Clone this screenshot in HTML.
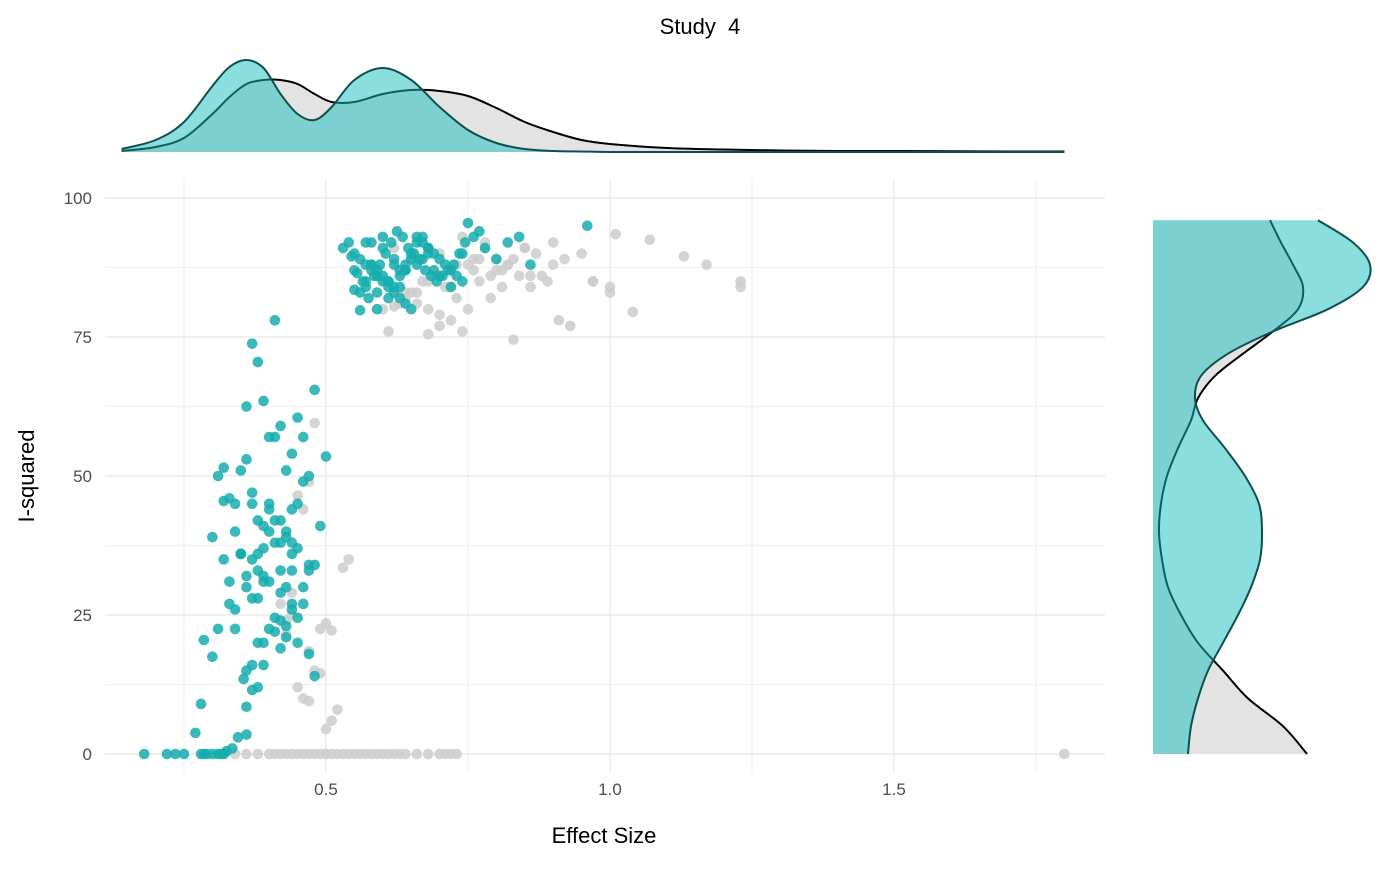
<!DOCTYPE html>
<html><head><meta charset="utf-8"><style>
html,body{margin:0;padding:0;background:#fff;}
svg text{font-family:"Liberation Sans",Arial,sans-serif;}
</style></head><body>
<svg id="chart" width="1400" height="865" xmlns="http://www.w3.org/2000/svg">
<rect width="1400" height="865" fill="#fff"/>
<g id="grid"></g>
<g id="pts"></g>
<g id="topG"></g>
<g id="rightG"></g>
<g id="axes"></g>
<text x="700" y="34" font-size="22" text-anchor="middle">Study &#160;4</text>
<text x="604" y="843" font-size="22" text-anchor="middle">Effect Size</text>
<text transform="translate(34,476) rotate(-90)" font-size="22" text-anchor="middle">I-squared</text>
</svg>
<script>
const xTicks=[0.5,1.0,1.5];
const xTickLabels=["0.5","1.0","1.5"];
const yTicks=[0,25,50,75,100];
const yTickLabels=["0","25","50","75","100"];
const tealX=[0.18,0.22,0.235,0.25,0.28,0.285,0.29,0.3,0.31,0.315,0.32,0.325,0.335,0.345,0.36,
0.27,0.28,0.3,0.31,0.33,0.34,0.32,0.3,0.355,0.36,0.37,0.38,0.39,0.4,0.41,0.42,0.43,0.44,0.45,0.46,0.47,0.48,0.49,0.5,
0.285,0.31,0.32,0.33,0.34,0.35,0.36,0.37,0.38,0.39,0.4,0.41,0.42,0.43,0.44,0.45,0.46,0.47,0.35,0.36,0.37,0.38,0.39,0.4,0.41,0.42,0.43,0.44,0.45,0.46,
0.33,0.34,0.36,0.37,0.38,0.39,0.4,0.41,0.42,0.43,0.44,0.45,0.46,0.47,0.48,0.36,0.37,0.38,0.39,0.4,0.41,0.42,0.43,0.44,0.34,0.35,0.37,0.38,0.4,0.42,0.44,0.36,0.39,0.41,0.43,0.45,0.47,0.48,0.37,0.38,0.42,0.44,0.32,0.35,0.39,
0.53,0.54,0.55,0.56,0.57,0.58,0.59,0.6,0.61,0.62,0.63,0.64,0.65,0.66,0.67,0.68,0.69,0.7,0.71,0.72,0.73,0.74,0.75,0.76,0.78,0.8,0.82,0.84,0.86,0.96,
0.545,0.555,0.565,0.575,0.585,0.595,0.605,0.615,0.625,0.635,0.645,0.655,0.665,0.675,0.685,0.695,0.705,0.715,0.725,0.735,0.745,0.77,
0.55,0.56,0.57,0.58,0.59,0.6,0.61,0.62,0.63,0.64,0.65,0.66,0.67,0.68,0.69,0.7,0.72,0.74,0.56,0.58,0.6,0.62,0.64,0.66,0.68,0.57,0.59,0.61,0.63,0.65,0.67,0.58,0.6,0.62,0.64,0.55,0.57,0.59,0.61,0.63];
const tealY=[0,0,0,0,0,0,0,0,0,0,0,0.5,1,3,3.5,
3.8,9,17.5,22.5,27,22.5,51.5,39,13.5,8.5,16,12,20,22.5,24.5,19,21,26,24.5,27,33,34,41,53.5,
20.5,50,45.5,46,45,36,30,28,28,31,45,57,33,30,36,45,30,34,51,53,47,42,41,40,38,42,39,38,37,49,
31,26,62.5,73.8,70.5,63.5,57,78,59,51,54,60.5,57,50,65.5,32,35,36,37,44,42,38,40,44,40,36,45,33,31,29,27,15,16,22,23,20,18,14,11.5,20,24,33,35,36,32,
91,92,90,89,88,87,86,85,84,83,82,81,80,93,92,91,90,89,88,87,86,85,95.5,93,91,89,92,93,88,95,
89.5,86.5,85,82,86,88,90,92,94,93,91,90,89,87,86,85,86,87,88,90,92,94,
83.5,83,84,88,87,86,85,84,86,88,90,92,93,91,87,86,84,90,79.8,88,91,89,87,88,90,92,83,85,87,89,89,92,93,88,87,87,85,80,82,84];
const greyX=[0.32,0.34,0.36,0.38,0.4,0.41,0.42,0.43,0.44,0.45,0.46,0.47,0.48,0.49,0.5,0.51,0.52,0.53,0.54,0.55,0.56,0.57,0.58,0.59,0.6,0.61,0.62,0.63,0.64,0.66,0.68,0.7,0.71,0.72,0.73,1.8,
0.43,0.44,0.45,0.46,0.47,0.48,0.49,0.5,0.51,0.52,0.53,0.54,0.47,0.48,0.5,0.46,0.45,0.44,0.43,0.42,0.47,0.49,0.51,
0.6,0.62,0.64,0.66,0.68,0.7,0.72,0.74,0.76,0.78,0.8,0.82,0.84,0.86,0.88,0.9,0.92,0.95,0.97,1.0,1.01,1.04,1.07,1.13,1.17,1.23,1.23,
0.61,0.63,0.65,0.67,0.69,0.71,0.73,0.75,0.77,0.79,0.81,0.83,0.85,0.87,0.89,0.91,0.93,0.97,1.0,0.65,0.7,0.75,0.8,0.85,0.9,0.68,0.72,0.76,0.82,0.86,0.74,0.78,0.62,0.66,0.7,0.64,0.68,0.73,0.77,0.83,0.79,0.81];
const greyY=[0,0,0,0,0,0,0,0,0,0,0,0,0,0,0,0,0,0,0,0,0,0,0,0,0,0,0,0,0,0,0,0,0,0,0,0,
24,29,46.5,44,49,59.5,14.5,4.5,6,8,33.5,35,18.5,15,23.5,10,12,25,21.5,27,9.5,22.5,22.2,
80,80.5,82,83,80,77,78,76,87,91,89,88,86,84,86,88,89,90,85,84,93.5,79.5,92.5,89.5,88,85,84,
76,81,83,85,86,84,82,80,85,86,87,89,91,90,85,78,77,85,83,89,90,88,87,91,92,75.5,84,89,88,86,93,92,91,81,79,83,85,88,89,74.5,82,84];
const topGrid=[0.14,0.2,0.25,0.3,0.33,0.36,0.39,0.42,0.45,0.48,0.51,0.55,0.6,0.65,0.7,0.75,0.8,0.85,0.9,0.95,1.0,1.1,1.2,1.3,1.4,1.5,1.6,1.7,1.8];
const topTeal=[3,12,30,66,85,92,84,58,38,32,45,72,84,72,45,22,9,3,1,0.5,0,0,0,0,0,0,0,0,0];
const topGrey=[1,5,14,38,55,68,72,72,68,58,50,50,58,62,61,56,44,30,20,12,8,4,2.5,1.5,1,1,0.7,0.5,0.5];
const rightGrid=[0,5,10,15,20,25,30,35,40,45,50,55,60,64,68,72,76,80,84,88,92,96];
const rightTeal=[35,38,45,55,70,85,98,107,109,106,92,72,50,42,48,75,120,175,210,217,200,165];
const rightGrey=[154,130,95,70,45,28,15,9,6,8,14,25,38,45,62,90,120,145,150,140,128,117];

const NS="http://www.w3.org/2000/svg";
const X=v=>42+568*v, Y=v=>754-5.56*v;
function mk(tag,attrs,parent){const e=document.createElementNS(NS,tag);for(const k in attrs)e.setAttribute(k,attrs[k]);parent.appendChild(e);return e;}
const gridG=document.getElementById('grid'),ptsG=document.getElementById('pts'),axesG=document.getElementById('axes');
for(let v=0.25;v<=1.76;v+=0.25){const major=xTicks.some(t=>Math.abs(t-v)<1e-6);
 const l=mk('line',{x1:X(v),x2:X(v),y1:180,y2:772,stroke:'#ebebeb','stroke-width':major?1.6:0.8},gridG);
 
 }
for(let v=0;v<=100;v+=12.5){const major=yTicks.includes(v);
 const l=mk('line',{x1:105,x2:1105,y1:Y(v),y2:Y(v),stroke:'#ebebeb','stroke-width':major?1.6:0.8},gridG);
 
 }
xTicks.forEach((t,i)=>{const e=mk('text',{x:X(t),y:795,'font-size':17,fill:'#4d4d4d','text-anchor':'middle'},axesG);e.textContent=xTickLabels[i];
 
 });
yTicks.forEach((t,i)=>{const e=mk('text',{x:92,y:Y(t)+6,'font-size':17,fill:'#4d4d4d','text-anchor':'end'},axesG);e.textContent=yTickLabels[i];
 
 });
greyX.forEach((x,i)=>{const c=mk('circle',{cx:X(x),cy:Y(greyY[i]),r:5.3,fill:'#cccccc','fill-opacity':0.85},ptsG);
 
 });
tealX.forEach((x,i)=>{const c=mk('circle',{cx:X(x),cy:Y(tealY[i]),r:5.3,fill:'#16adad','fill-opacity':0.85},ptsG);
 
 });
function smoothPath(P){let d=`M${P[0][0]},${P[0][1]}`;for(let i=0;i<P.length-1;i++){const p0=P[i-1]||P[i],p1=P[i],p2=P[i+1],p3=P[i+2]||p2;
 d+=` C${p1[0]+(p2[0]-p0[0])/6},${p1[1]+(p2[1]-p0[1])/6} ${p2[0]-(p3[0]-p1[0])/6},${p2[1]-(p3[1]-p1[1])/6} ${p2[0]},${p2[1]}`;}return d;}
const topGroup=document.getElementById('topG'),rightGroup=document.getElementById('rightG');
const TB=152;
[[topGrey,'#e3e3e3','top-density-grey','#000'],[topTeal,'rgba(23,190,190,0.5)','top-density-teal','#0d4f4f']].forEach(([arr,fill,name,stroke])=>{
 const P=topGrid.map((g,i)=>[X(g),TB-arr[i]]);const d=smoothPath(P);
 const a=mk('path',{d:d+` L${P[P.length-1][0]},${TB} L${P[0][0]},${TB} Z`,fill:fill,stroke:'none'},topGroup);
 
 
 const l=mk('path',{d:d,fill:'none',stroke:stroke,'stroke-width':2},topGroup);
 
 });
const RB=1153;
[[rightGrey,'#e3e3e3','right-density-grey','#000'],[rightTeal,'rgba(23,190,190,0.5)','right-density-teal','#0d4f4f']].forEach(([arr,fill,name,stroke])=>{
 const P=rightGrid.map((g,i)=>[RB+arr[i],Y(g)]);const d=smoothPath(P);
 const a=mk('path',{d:d+` L${RB},${P[P.length-1][1]} L${RB},${P[0][1]} Z`,fill:fill,stroke:'none'},rightGroup);
 
 
 const l=mk('path',{d:d,fill:'none',stroke:stroke,'stroke-width':2},rightGroup);
 
 });
</script>
</body></html>
